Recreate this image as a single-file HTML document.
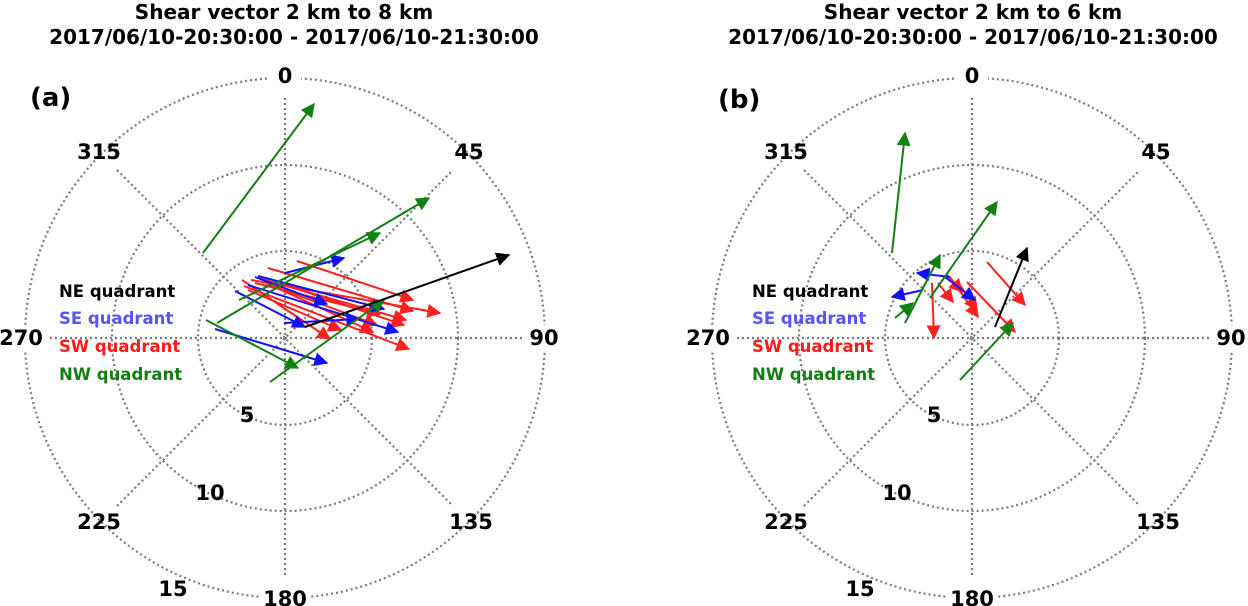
<!DOCTYPE html>
<html><head><meta charset="utf-8"><style>
html,body{margin:0;padding:0;background:#fff;width:1248px;height:606px;overflow:hidden}
svg{display:block}
text{font-family:"DejaVu Sans","Liberation Sans",sans-serif}
</style></head><body>
<svg width="1248" height="606" viewBox="0 0 1248 606" xmlns="http://www.w3.org/2000/svg">
<defs>
<marker id="mg" viewBox="0 0 10 10" refX="9" refY="5" markerWidth="14" markerHeight="14" markerUnits="userSpaceOnUse" orient="auto"><path d="M0,0L10,5L0,10z" fill="#128012"/></marker>
<marker id="mr" viewBox="0 0 10 10" refX="9" refY="5" markerWidth="14" markerHeight="14" markerUnits="userSpaceOnUse" orient="auto"><path d="M0,0L10,5L0,10z" fill="#ff2020"/></marker>
<marker id="mb" viewBox="0 0 10 10" refX="9" refY="5" markerWidth="14" markerHeight="14" markerUnits="userSpaceOnUse" orient="auto"><path d="M0,0L10,5L0,10z" fill="#1010ff"/></marker>
<marker id="mk" viewBox="0 0 10 10" refX="9" refY="5" markerWidth="14" markerHeight="14" markerUnits="userSpaceOnUse" orient="auto"><path d="M0,0L10,5L0,10z" fill="#000"/></marker>
<g id="grid" fill="none" stroke="#7a7a7a" stroke-width="2.2" stroke-dasharray="2 3">
<circle cx="0" cy="0" r="87"/><circle cx="0" cy="0" r="173"/><circle cx="0" cy="0" r="260"/>
<line x1="0" y1="-240" x2="0" y2="240"/><line x1="-240" y1="0" x2="240" y2="0"/>
<line x1="-168" y1="-168" x2="168" y2="168"/><line x1="-168" y1="168" x2="168" y2="-168"/>
</g>
<g id="labs" font-weight="bold" font-size="21" text-anchor="middle" fill="#000">
<rect x="-16" y="-274" width="32" height="26" fill="#fff"/><text x="0" y="-255">0</text>
<rect x="238" y="-13" width="42" height="26" fill="#fff"/><text x="259" y="7">90</text>
<rect x="-290" y="-13" width="52" height="26" fill="#fff"/><text x="-264" y="7">270</text>
<rect x="-26" y="248" width="52" height="26" fill="#fff"/><text x="0" y="268">180</text>
<text x="184" y="-179">45</text><text x="-186" y="-179">315</text>
<text x="186" y="191">135</text><text x="-186" y="191">225</text>
<text x="-38" y="84">5</text><text x="-75" y="162">10</text><text x="-112" y="258">15</text>
</g>
</defs>
<g font-weight="bold" font-size="20" text-anchor="middle" font-family="DejaVu Sans,sans-serif">
<text x="284" y="19">Shear vector 2 km to 8 km</text>
<text x="294" y="44">2017/06/10-20:30:00 - 2017/06/10-21:30:00</text>
<text x="973" y="19">Shear vector 2 km to 6 km</text>
<text x="973" y="44">2017/06/10-20:30:00 - 2017/06/10-21:30:00</text>
</g>
<use href="#grid" transform="translate(285,338)"/>
<use href="#grid" transform="translate(972,338)"/>
<use href="#labs" transform="translate(285,338)"/>
<use href="#labs" transform="translate(972,338)"/>
<text x="30" y="106" font-family="Liberation Sans,sans-serif" font-weight="bold" font-size="26">(a)</text>
<text x="718" y="108" font-family="Liberation Sans,sans-serif" font-weight="bold" font-size="26">(b)</text>
<g font-size="16.5" font-family="Liberation Sans,sans-serif" font-weight="bold">
<text x="59" y="297" fill="#000">NE quadrant</text>
<text x="59" y="324" fill="#5555ff">SE quadrant</text>
<text x="59" y="352" fill="#ff1a1a">SW quadrant</text>
<text x="59" y="380" fill="#137f13">NW quadrant</text>
<text x="752" y="297" fill="#000">NE quadrant</text>
<text x="752" y="324" fill="#5555ff">SE quadrant</text>
<text x="752" y="352" fill="#ff1a1a">SW quadrant</text>
<text x="752" y="380" fill="#137f13">NW quadrant</text>
</g>
<g stroke-width="2" fill="none">
<g stroke="#ff2020" marker-end="url(#mr)">
<line x1="297" y1="261" x2="413" y2="300"/><line x1="268" y1="268" x2="413" y2="311"/>
<line x1="251" y1="280" x2="440" y2="313"/><line x1="244" y1="286" x2="409" y2="349"/>
<line x1="258" y1="278" x2="406" y2="320"/><line x1="248" y1="290" x2="341" y2="330"/>
<line x1="242" y1="280" x2="330" y2="339"/><line x1="273" y1="286" x2="377" y2="325"/>
<line x1="266" y1="283" x2="373" y2="332"/><line x1="280" y1="283" x2="404" y2="325"/>
<line x1="255" y1="283" x2="380" y2="314"/>
<line x1="932" y1="283" x2="934" y2="338"/><line x1="987" y1="262" x2="1025" y2="305"/>
<line x1="967" y1="282" x2="1015" y2="332"/><line x1="938" y1="283" x2="953" y2="302"/>
<line x1="950" y1="277" x2="978" y2="317"/><line x1="947" y1="275" x2="962" y2="292"/>
<line x1="960" y1="285" x2="977" y2="310"/>
</g>
<g stroke="#1010ff" marker-end="url(#mb)">
<line x1="285" y1="273" x2="344" y2="258"/><line x1="255" y1="277" x2="327" y2="304"/>
<line x1="235" y1="291" x2="305" y2="327"/><line x1="215" y1="329" x2="327" y2="363"/>
<line x1="284" y1="323" x2="359" y2="319"/><line x1="248" y1="285" x2="398" y2="332"/>
<line x1="258" y1="276" x2="384" y2="309"/>
<line x1="923" y1="290" x2="892" y2="297"/><line x1="950" y1="277" x2="917" y2="273"/>
<line x1="945" y1="277" x2="975" y2="300"/>
</g>
<g stroke="#128012" marker-end="url(#mg)">
<line x1="203" y1="253" x2="314" y2="104"/><line x1="217" y1="323" x2="429" y2="198"/>
<line x1="239" y1="300" x2="380" y2="233"/><line x1="206" y1="320" x2="298" y2="368"/>
<line x1="270" y1="382" x2="384" y2="300"/>
<line x1="892" y1="253" x2="905" y2="133"/><line x1="930" y1="298" x2="997" y2="202"/>
<line x1="905" y1="323" x2="940" y2="255"/><line x1="895" y1="318" x2="913" y2="303"/>
<line x1="960" y1="380" x2="1013" y2="323"/>
</g>
<g stroke="#000" marker-end="url(#mk)">
<line x1="305" y1="327" x2="509" y2="255"/>
<line x1="995" y1="327" x2="1027" y2="248"/>
</g>
</g>
</svg>
</body></html>
